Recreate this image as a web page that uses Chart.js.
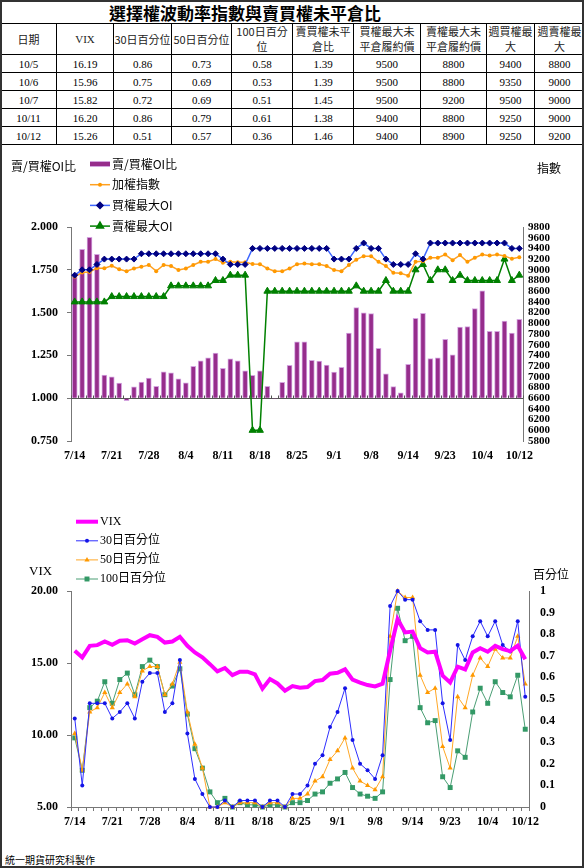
<!DOCTYPE html>
<html lang="zh-Hant">
<head>
<meta charset="UTF-8">
<title>選擇權波動率指數與賣買權未平倉比</title>
<style>
    body { margin: 0; background: #fff; }
    #page { position: relative; width: 584px; height: 868px; overflow: hidden; background: #fff; }
    #frame { position: absolute; left: 0; top: 0; width: 584px; height: 868px; box-sizing: border-box; border: 2px solid #333; pointer-events: none; }
    #title { position: absolute; left: 0; top: 0; width: 490px; height: 23px; line-height: 23px; text-align: center; font: bold 17px 'Noto Sans CJK TC', sans-serif; color: #000; }
    #oiTable { position: absolute; left: 0; top: 23px; width: 584px; border-collapse: collapse; table-layout: fixed; }
    #oiTable th, #oiTable td { border: 1px solid #000; text-align: center; padding: 0; color: #000; }
    #oiTable th { height: 30px; font: normal 11px/15px 'Noto Sans CJK TC', sans-serif; color: #222; }
    #oiTable th.serif { font-family: 'Liberation Serif', serif; }
    #oiTable td { height: 17px; font: 11px 'Liberation Serif', serif; }
    canvas { position: absolute; left: 0; }
    #ratioChart { top: 150px; }
    #vixChart { top: 490px; }
    #footer { position: absolute; left: 5px; top: 852px; font: 10px 'Noto Sans CJK TC', sans-serif; color: #000; }
</style>
</head>
<body>
<div id="page">
    <div id="title">選擇權波動率指數與賣買權未平倉比</div>
    <table id="oiTable">
        <colgroup>
            <col style="width:56px"><col style="width:57px"><col style="width:58px"><col style="width:60px"><col style="width:61px">
            <col style="width:61px"><col style="width:67px"><col style="width:66px"><col style="width:48px"><col style="width:50px">
        </colgroup>
        <thead>
            <tr>
                <th>日期</th><th class="serif">VIX</th><th>30日百分位</th><th>50日百分位</th><th>100日百分<br>位</th>
                <th>賣買權未平<br>倉比</th><th>買權最大未<br>平倉履約價</th><th>賣權最大未<br>平倉履約價</th><th>週買權最<br>大</th><th>週賣權最<br>大</th>
            </tr>
        </thead>
        <tbody id="tableBody"></tbody>
    </table>

    <canvas id="ratioChart" width="584" height="320"></canvas>
    <canvas id="vixChart" width="584" height="345"></canvas>

    <div id="footer">統一期貨研究科製作</div>
    <div id="frame"></div>
</div>

<script src="https://cdn.jsdelivr.net/npm/chart.js"></script>
<script>
    // trading days 7/14 - 10/12
    const dates = ['7/14','7/15','7/18','7/19','7/20','7/21','7/22','7/25','7/26','7/27',
        '7/28','7/29','8/1','8/2','8/3','8/4','8/5','8/8','8/9','8/10',
        '8/11','8/12','8/15','8/16','8/17','8/18','8/19','8/22','8/23','8/24',
        '8/25','8/26','8/29','8/30','8/31','9/1','9/2','9/5','9/6','9/7',
        '9/8','9/9','9/10','9/12','9/13','9/14','9/19','9/20','9/21','9/22',
        '9/23','9/26','9/29','9/30','10/3','10/4','10/5','10/6','10/7','10/11','10/12'];
    const xTickLabels = ['7/14','7/21','7/28','8/4','8/11','8/18','8/25','9/1','9/8','9/14','9/23','10/4','10/12'];

    // top chart
    const putCallRatio = [1.71,1.87,1.94,1.84,1.135,1.125,1.088,0.985,1.066,1.094,
        1.117,1.070,1.154,1.148,1.113,1.090,1.186,1.219,1.236,1.264,
        1.174,1.230,1.219,1.160,1.133,1.160,1.069,0.996,1.092,1.192,
        1.329,1.329,1.221,1.217,1.194,1.153,1.180,1.380,1.529,1.498,
        1.494,1.291,1.143,1.068,1.031,1.198,1.466,1.496,1.231,1.236,
        1.344,1.253,1.415,1.419,1.523,1.627,1.39,1.39,1.45,1.38,1.46];
    const taiex = [8870,8950,8960,9030,9030,9075,9010,8975,9025,9055,
        9090,8975,9090,9070,8995,9025,9090,9150,9150,9200,
        9130,9150,9140,9140,9110,9105,9025,8975,8975,9025,
        9105,9120,9105,9105,9070,8995,8975,9090,9190,9255,
        9255,9150,9070,8945,8935,8890,9150,9160,9225,9225,
        9285,9180,9275,9150,9225,9285,9265,9285,9260,9205,9235];
    const callMaxOI = [8900,9000,9000,9100,9200,9200,9200,9200,9200,9300,
        9300,9300,9300,9300,9300,9300,9300,9300,9300,9300,
        9200,9100,9100,9100,9400,9400,9400,9400,9400,9400,
        9400,9400,9400,9400,9400,9200,9200,9200,9400,9500,
        9400,9400,9200,9100,9100,9100,9300,9200,9500,9500,
        9500,9500,9500,9500,9500,9500,9500,9500,9500,9400,9400];
    const putMaxOI = [8400,8400,8400,8400,8400,8500,8500,8500,8500,8500,
        8500,8500,8500,8700,8700,8700,8700,8700,8700,8800,
        8800,8900,8900,8900,6000,6000,8600,8600,8600,8600,
        8600,8600,8600,8600,8600,8600,8600,8600,8700,8600,
        8600,8600,8800,8600,8600,8600,9000,9100,8800,9000,
        9000,8800,8900,8800,8800,8800,8800,8800,9200,8800,8900];

    // bottom chart
    const vix = [15.85,15.39,16.19,16.24,16.49,16.26,16.54,16.58,16.35,16.65,
        16.93,16.82,16.42,16.49,16.82,16.19,15.73,15.39,14.92,14.42,
        14.65,14.16,14.40,14.40,14.21,13.22,13.88,13.58,13.08,13.40,
        13.28,13.33,13.74,13.82,14.26,14.32,14.56,13.85,13.64,13.47,
        13.37,13.56,15.85,18.04,17.12,17.18,16.03,15.73,15.78,14.12,
        13.65,14.74,14.55,15.73,16.03,15.78,16.19,15.96,15.82,16.20,15.26];
    const pct30 = [0.41,0.10,0.48,0.48,0.48,0.41,0.44,0.48,0.41,0.58,
        0.62,0.62,0.44,0.48,0.68,0.34,0.13,0.06,0.00,0.00,
        0.03,0.00,0.03,0.03,0.03,0.00,0.03,0.03,0.00,0.06,
        0.06,0.10,0.20,0.24,0.37,0.44,0.55,0.31,0.20,0.17,
        0.13,0.24,0.93,1.00,0.96,0.96,0.86,0.82,0.82,0.48,
        0.31,0.75,0.68,0.79,0.86,0.79,0.86,0.75,0.72,0.86,0.51];
    const pct50 = [0.34,0.17,0.44,0.46,0.53,0.46,0.53,0.57,0.51,0.63,
        0.65,0.65,0.52,0.57,0.67,0.44,0.29,0.18,0.00,0.00,
        0.02,0.00,0.02,0.02,0.02,0.00,0.02,0.02,0.00,0.04,
        0.04,0.06,0.12,0.14,0.22,0.26,0.32,0.18,0.12,0.10,
        0.08,0.14,0.79,1.00,0.97,0.97,0.61,0.53,0.55,0.28,
        0.18,0.51,0.46,0.61,0.69,0.65,0.73,0.69,0.69,0.79,0.57];
    const pct100 = [0.32,0.17,0.46,0.49,0.58,0.48,0.59,0.62,0.52,0.65,
        0.68,0.65,0.52,0.56,0.64,0.43,0.27,0.18,0.07,0.02,
        0.04,0.00,0.02,0.01,0.01,0.00,0.01,0.01,0.00,0.02,
        0.02,0.03,0.06,0.07,0.11,0.13,0.16,0.09,0.06,0.05,
        0.04,0.07,0.59,0.92,0.77,0.79,0.46,0.39,0.40,0.14,
        0.09,0.26,0.23,0.44,0.55,0.48,0.58,0.53,0.51,0.61,0.36];

    // weekly options (table only)
    const weekCallMax = [9400, 9350, 9500, 9250, 9250];
    const weekPutMax = [8800, 9000, 9000, 9000, 9200];

    const serif = "'Liberation Serif', 'Noto Sans CJK TC', serif";
    const cjk = "'Noto Sans CJK TC', sans-serif";

    // fill the table with the last 5 trading days
    const tbody = document.getElementById('tableBody');
    const n = dates.length;
    for (let k = 0; k < 5; k++) {
        const i = n - 5 + k;
        const cells = [dates[i], vix[i].toFixed(2), pct30[i].toFixed(2), pct50[i].toFixed(2), pct100[i].toFixed(2),
            putCallRatio[i].toFixed(2), callMaxOI[i], putMaxOI[i], weekCallMax[k], weekPutMax[k]];
        const tr = document.createElement('tr');
        cells.forEach(c => {
            const td = document.createElement('td');
            td.textContent = c;
            tr.appendChild(td);
        });
        tbody.appendChild(tr);
    }

    Chart.defaults.font.family = serif;
    Chart.defaults.color = '#000';

    function drawMarker(ctx, ds, x, y) {
        ctx.fillStyle = ds.pointBackgroundColor || ds.borderColor;
        ctx.strokeStyle = ds.pointBorderColor || ds.borderColor;
        const opts = { pointStyle: ds.pointStyle || 'circle', radius: ds.pointRadius, rotation: 0, borderWidth: ds.pointBorderWidth || 0 };
        if (Chart.helpers && Chart.helpers.drawPoint) {
            Chart.helpers.drawPoint(ctx, opts, x, y);
        } else {
            ctx.beginPath();
            ctx.arc(x, y, ds.pointRadius, 0, Math.PI * 2);
            ctx.fill();
        }
    }

    // legend + axis titles drawn at fixed spots, like the Excel original
    function overlayPlugin(cfg) {
        return {
            id: 'overlay',
            afterDraw(chart) {
                const ctx = chart.ctx;
                ctx.save();
                ctx.textBaseline = 'middle';
                ctx.fillStyle = '#000';
                cfg.titles.forEach(t => {
                    ctx.font = t.font;
                    ctx.fillStyle = '#000';
                    ctx.fillText(t.text, t.x, t.y);
                });
                chart.data.datasets.forEach((ds, i) => {
                    const y = cfg.y + i * cfg.dy;
                    const x = cfg.x, w = cfg.w;
                    if (ds.type === 'bar' || (!ds.type && chart.config.type === 'bar')) {
                        ctx.fillStyle = ds.borderColor;
                        ctx.fillRect(x, y - 3, w, 6);
                        ctx.fillStyle = ds.backgroundColor;
                        ctx.fillRect(x, y - 2, w, 4);
                    } else {
                        ctx.strokeStyle = ds.borderColor;
                        ctx.lineWidth = ds.borderWidth;
                        ctx.beginPath();
                        ctx.moveTo(x, y);
                        ctx.lineTo(x + w, y);
                        ctx.stroke();
                        if (ds.pointRadius > 0) drawMarker(ctx, ds, x + w / 2, y);
                    }
                    ctx.font = cfg.font;
                    ctx.fillStyle = '#000';
                    ctx.fillText(ds.label, x + w + 2, y);
                });
                ctx.restore();
            }
        };
    }

    // horizontal axis line at ratio 1.000 with category tick marks
    const baseLinePlugin = {
        id: 'baseLine',
        beforeDatasetsDraw(chart) {
            const { ctx, chartArea, scales } = chart;
            const y = Math.round(scales.y.getPixelForValue(1)) + 0.5;
            ctx.save();
            ctx.strokeStyle = '#555';
            ctx.lineWidth = 1;
            ctx.beginPath();
            ctx.moveTo(chartArea.left, y);
            ctx.lineTo(chartArea.right, y);
            const step = (chartArea.right - chartArea.left) / dates.length;
            for (let i = 0; i <= dates.length; i++) {
                const x = Math.round(chartArea.left + i * step) + 0.5;
                ctx.moveTo(x, y - 3);
                ctx.lineTo(x, y);
            }
            ctx.stroke();
            ctx.restore();
        }
    };

    const xTickCallback = (v, i) => xTickLabels.includes(dates[i]) ? dates[i] : '';
    const tickFont = { size: 12, weight: 'bold', family: serif };

    // ---- top chart: put/call OI ratio + index + max OI strikes
    new Chart(document.getElementById('ratioChart'), {
        type: 'bar',
        data: {
            labels: dates,
            datasets: [{
                type: 'bar',
                label: '賣/買權OI比',
                data: putCallRatio,
                base: 1,
                yAxisID: 'y',
                backgroundColor: '#962D8C',
                borderColor: '#D4A5E0',
                borderWidth: 1,
                barThickness: 5,
                order: 4
            }, {
                type: 'line',
                label: '加權指數',
                data: taiex,
                yAxisID: 'y1',
                borderColor: '#FFA020',
                backgroundColor: '#FFA020',
                pointBackgroundColor: '#FF9900',
                pointBorderColor: '#FF9900',
                borderWidth: 1.5,
                pointRadius: 2,
                pointBorderWidth: 0,
                pointStyle: 'circle',
                tension: 0,
                order: 2
            }, {
                type: 'line',
                label: '買權最大OI',
                data: callMaxOI,
                yAxisID: 'y1',
                borderColor: '#3D66FF',
                backgroundColor: '#000080',
                pointBackgroundColor: '#000080',
                pointBorderColor: '#000080',
                borderWidth: 1.5,
                pointRadius: 3,
                pointBorderWidth: 1,
                pointStyle: 'rectRot',
                tension: 0,
                order: 1
            }, {
                type: 'line',
                label: '賣權最大OI',
                data: putMaxOI,
                yAxisID: 'y1',
                borderColor: '#008000',
                backgroundColor: '#008000',
                pointBackgroundColor: '#008000',
                pointBorderColor: '#008000',
                borderWidth: 1.5,
                pointRadius: 4,
                pointBorderWidth: 1,
                pointStyle: 'triangle',
                tension: 0,
                order: 3
            }]
        },
        options: {
            responsive: false,
            animation: false,
            devicePixelRatio: 1,
            layout: { padding: { top: 77, left: 0, right: 0, bottom: 0 } },
            plugins: { legend: { display: false }, tooltip: { enabled: false } },
            scales: {
                x: {
                    offset: true,
                    grid: { display: false, drawTicks: false },
                    border: { display: false },
                    ticks: { autoSkip: false, maxRotation: 0, minRotation: 0, padding: 8, font: tickFont, callback: xTickCallback },
                    afterFit: s => { s.height = 29; }
                },
                y: {
                    position: 'left',
                    min: 0.75,
                    max: 2,
                    grid: { drawOnChartArea: false, drawTicks: true, tickLength: 4, color: '#777' },
                    border: { color: '#777' },
                    ticks: { stepSize: 0.25, padding: 9, font: tickFont, callback: v => v.toFixed(3) },
                    afterFit: s => { s.width = 71; }
                },
                y1: {
                    position: 'right',
                    min: 5800,
                    max: 9800,
                    grid: { drawOnChartArea: false, drawTicks: false },
                    border: { color: '#777' },
                    ticks: { stepSize: 200, autoSkip: false, padding: 5, font: { size: 11, weight: 'bold', family: serif }, callback: v => String(v) },
                    afterFit: s => { s.width = 61; }
                }
            }
        },
        plugins: [baseLinePlugin, overlayPlugin({
            x: 90, y: 14, dy: 20.7, w: 20, font: '12px ' + cjk,
            titles: [
                { text: '賣/買權OI比', x: 11, y: 16, font: '12px ' + cjk },
                { text: '指數', x: 537, y: 18, font: '12px ' + cjk }
            ]
        })]
    });

    // ---- bottom chart: VIX + percentiles
    new Chart(document.getElementById('vixChart'), {
        type: 'line',
        data: {
            labels: dates,
            datasets: [{
                label: 'VIX',
                data: vix,
                yAxisID: 'y',
                borderColor: '#FF00FF',
                backgroundColor: '#FF00FF',
                borderWidth: 4,
                pointRadius: 0,
                tension: 0,
                clip: false,
                order: 0
            }, {
                label: '30日百分位',
                data: pct30,
                yAxisID: 'y1',
                borderColor: '#2E2EFF',
                backgroundColor: '#1414E6',
                pointBackgroundColor: '#1414E6',
                pointBorderColor: '#1414E6',
                borderWidth: 1,
                pointRadius: 2,
                pointBorderWidth: 0,
                pointStyle: 'circle',
                tension: 0,
                clip: false,
                order: 1
            }, {
                label: '50日百分位',
                data: pct50,
                yAxisID: 'y1',
                borderColor: '#FFA726',
                backgroundColor: '#FF9900',
                pointBackgroundColor: '#FF9900',
                pointBorderColor: '#FF9900',
                borderWidth: 1,
                pointRadius: 3,
                pointBorderWidth: 0,
                pointStyle: 'triangle',
                tension: 0,
                clip: false,
                order: 2
            }, {
                label: '100日百分位',
                data: pct100,
                yAxisID: 'y1',
                borderColor: '#4A9E74',
                backgroundColor: '#339966',
                pointBackgroundColor: '#339966',
                pointBorderColor: '#339966',
                borderWidth: 1,
                pointRadius: 3.5,
                pointBorderWidth: 0,
                pointStyle: 'rect',
                tension: 0,
                clip: false,
                order: 3
            }]
        },
        options: {
            responsive: false,
            animation: false,
            devicePixelRatio: 1,
            layout: { padding: { top: 101, left: 0, right: 0, bottom: 0 } },
            plugins: { legend: { display: false }, tooltip: { enabled: false } },
            scales: {
                x: {
                    offset: true,
                    grid: { display: true, offset: true, drawOnChartArea: false, drawTicks: true, tickLength: 4, color: '#777' },
                    border: { color: '#777' },
                    ticks: { autoSkip: false, maxRotation: 0, minRotation: 0, padding: 4, font: tickFont, callback: xTickCallback },
                    afterFit: s => { s.height = 28; }
                },
                y: {
                    position: 'left',
                    min: 5,
                    max: 20,
                    grid: { drawOnChartArea: false, drawTicks: true, tickLength: 4, color: '#777' },
                    border: { color: '#777' },
                    ticks: { stepSize: 5, padding: 9, font: tickFont, callback: v => v.toFixed(2) },
                    afterFit: s => { s.width = 71; }
                },
                y1: {
                    position: 'right',
                    min: 0,
                    max: 1,
                    grid: { drawOnChartArea: false, drawTicks: false },
                    border: { color: '#777' },
                    ticks: { stepSize: 0.1, autoSkip: false, padding: 11, font: tickFont, callback: v => String(+v.toFixed(1)) },
                    afterFit: s => { s.width = 55; }
                }
            }
        },
        plugins: [overlayPlugin({
            x: 76, y: 31.7, dy: 19.1, w: 22, font: '12px ' + serif,
            titles: [
                { text: 'VIX', x: 29, y: 82, font: '13px ' + serif },
                { text: '百分位', x: 533, y: 84, font: '12px ' + cjk }
            ]
        })]
    });
</script>
</body>
</html>
